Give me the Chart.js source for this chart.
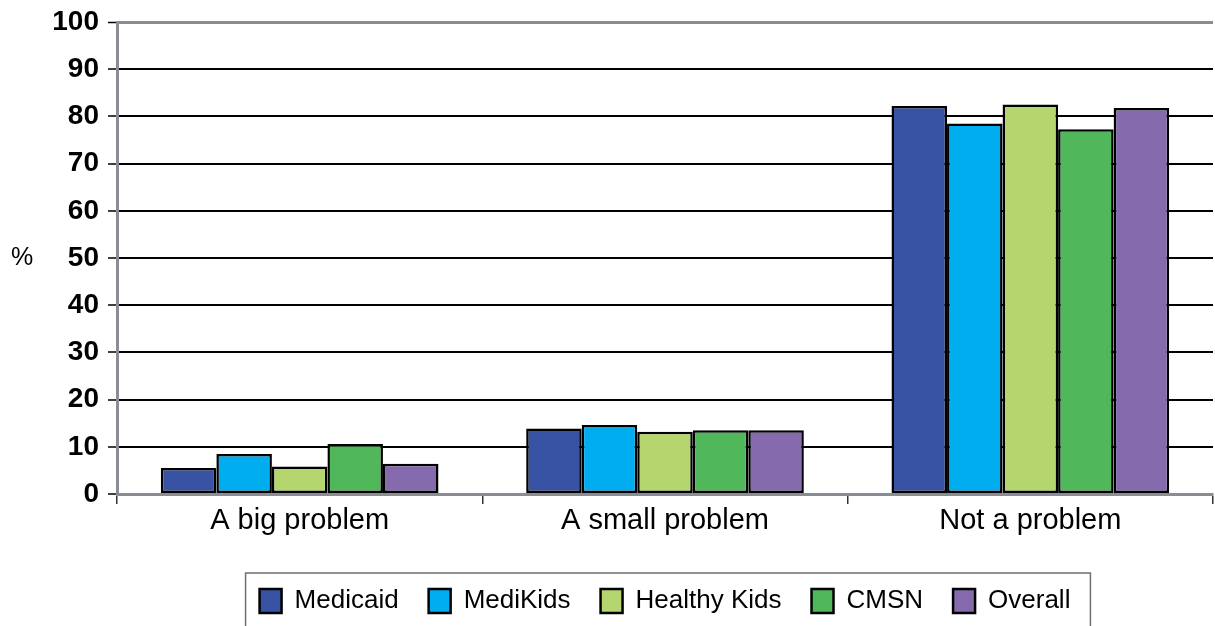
<!DOCTYPE html>
<html lang="en">
<head>
<meta charset="UTF-8">
<title>Problem rating by program</title>
<script src="https://cdn.jsdelivr.net/npm/chart.js"></script>
<style>
  html, body { margin: 0; padding: 0; background: #fff; }
  #wrap { width: 1215px; height: 626px; }
</style>
</head>
<body>
<div id="wrap"><canvas id="barChart" width="1215" height="626"></canvas></div>
<script>
// data
const categories = ['A big problem', 'A small problem', 'Not a problem'];
const seriesNames = ['Medicaid', 'MediKids', 'Healthy Kids', 'CMSN', 'Overall'];
const medicaid    = [5.5, 13.9, 82.2];
const mediKids    = [8.5, 14.6, 78.5];
const healthyKids = [5.8, 13.2, 82.5];
const cmsn        = [10.6, 13.5, 77.3];
const overall     = [6.4, 13.5, 81.8];
const yTicks = [0, 10, 20, 30, 40, 50, 60, 70, 80, 90, 100];

const seriesValues = [medicaid, mediKids, healthyKids, cmsn, overall];
const colors = ['#3953a4', '#00aeef', '#b5d56f', '#50b85a', '#856bad'];
const frameGray = '#8a8d93';

// "%" label beside the axis, and the box round the legend
const extras = {
  id: 'extras',
  afterDraw(chart) {
    const ctx = chart.ctx;
    const y = chart.scales.y;
    ctx.save();
    ctx.fillStyle = '#000';
    ctx.font = '25px "Liberation Sans", Arial, sans-serif';
    ctx.textAlign = 'center';
    ctx.textBaseline = 'middle';
    ctx.fillText('%', 22, y.getPixelForValue(50));

    const boxes = chart.legend.legendHitBoxes;
    if (boxes && boxes.length) {
      const first = boxes[0];
      const last = boxes[boxes.length - 1];
      const left = first.left - 14;
      const right = last.left + last.width + 20;
      const top = first.top - 15;
      ctx.strokeStyle = '#6d6e71';
      ctx.lineWidth = 1.5;
      ctx.strokeRect(left, top, right - left, chart.height - top + 10);
    }
    ctx.restore();
  }
};

const chart = new Chart(document.getElementById('barChart').getContext('2d'), {
  type: 'bar',
  data: {
    labels: categories,
    datasets: seriesNames.map((name, i) => ({
      label: name,
      data: seriesValues[i],
      backgroundColor: colors[i],
      borderColor: '#000',
      borderWidth: 2.5,
      borderSkipped: false,
      categoryPercentage: 0.76,
      barPercentage: 1
    }))
  },
  options: {
    responsive: false,
    animation: false,
    layout: { padding: { top: 22, right: 2, left: 0, bottom: 2 } },
    plugins: {
      tooltip: { enabled: false },
      legend: {
        position: 'bottom',
        fullSize: false,
        labels: {
          color: '#000',
          font: { family: '"Liberation Sans", Arial, sans-serif', size: 26 },
          boxWidth: 22,
          boxHeight: 24,
          padding: 30
        }
      }
    },
    scales: {
      x: {
        offset: true,
        grid: { drawOnChartArea: false, drawTicks: true, tickLength: 10, color: '#333', lineWidth: 1.5 },
        border: { display: true, color: frameGray, width: 3 },
        ticks: {
          color: '#000',
          padding: 0,
          font: { family: '"Liberation Sans", Arial, sans-serif', size: 29 }
        },
        afterFit(scale) { scale.height = 64; }
      },
      y: {
        min: 0,
        max: 100,
        afterBuildTicks(scale) { scale.ticks = yTicks.map(v => ({ value: v })); },
        grid: {
          color: ctx => (ctx.tick && ctx.tick.value === 100) ? frameGray : '#000',
          lineWidth: ctx => (ctx.tick && ctx.tick.value === 100) ? 3 : 2,
          tickColor: '#000',
          tickLength: 9,
          tickWidth: 1.5
        },
        border: { display: true, color: frameGray, width: 3 },
        ticks: {
          color: '#000',
          padding: 9,
          font: { family: '"Liberation Sans", Arial, sans-serif', size: 28, weight: 'bold' }
        },
        afterFit(scale) {
          scale.width = 117;
          scale.paddingTop = 0;
          scale.paddingBottom = 0;
        }
      }
    }
  },
  plugins: [extras]
});
</script>
</body>
</html>
